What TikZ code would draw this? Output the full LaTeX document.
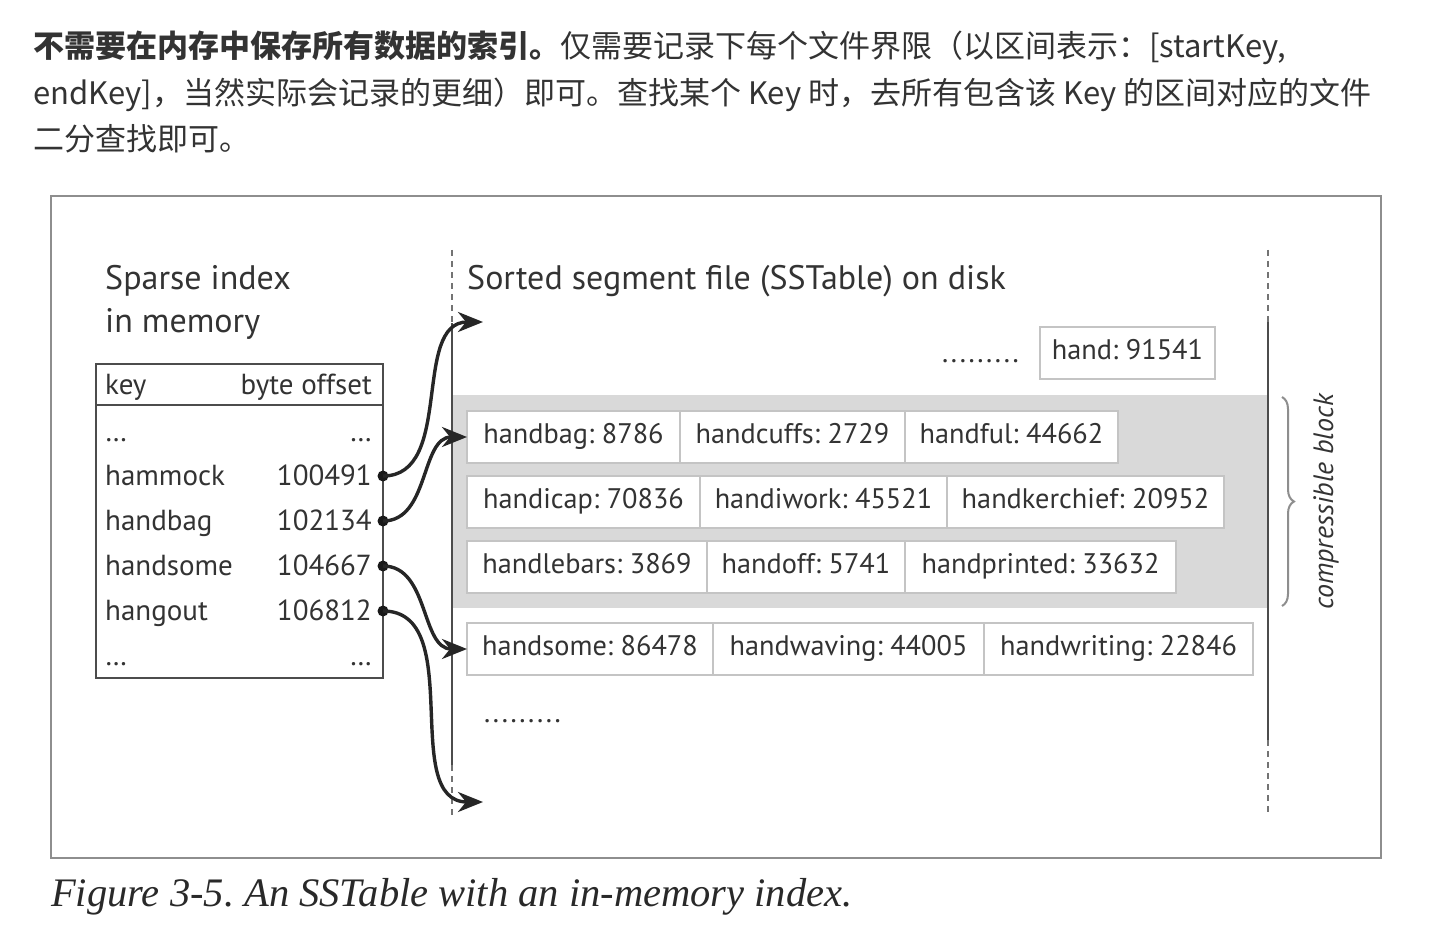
\documentclass[tikz,border=0pt]{standalone}
\usepackage{fontspec}
\setmainfont{PT Sans}
\newfontfamily\cjk{Noto Sans CJK SC}
\newfontfamily\capfont{Liberation Serif}
\usetikzlibrary{arrows.meta, positioning, decorations.pathreplacing}
\definecolor{ink}{HTML}{333333}
\definecolor{frameGray}{HTML}{8E8E8E}
\definecolor{blockGray}{HTML}{D9D9D9}
\definecolor{cellLine}{HTML}{C4C4C4}
\newcommand\setsz[1]{\fontsize{#1}{#1}\selectfont}
\newcommand\dotrun{.\kern2.6pt.\kern2.6pt.\kern2.6pt.\kern2.6pt.\kern2.6pt.\kern2.6pt.\kern2.6pt.\kern2.6pt.}

\begin{document}
\frenchspacing
\begin{tikzpicture}[
    x=1pt, y=-1pt,
    note/.style={text=ink, inner sep=0pt, anchor=base west, font=\cjk\setsz{31}},
    head/.style={text=ink, inner sep=0pt, anchor=base west, font=\setsz{34}},
    idx/.style={text=ink, inner sep=0pt, font=\setsz{29}},
    cell/.style={draw=cellLine, line width=1.5pt, fill=white, text=ink,
                 font=\setsz{28.3}, inner sep=0pt, outer sep=0pt,
                 minimum height=52pt, text height=19pt, text depth=6pt},
    dot/.style={circle, fill=black!90, inner sep=0pt, minimum size=11pt},
    ptr/.style={black!85, line width=3.4pt,
                -{Stealth[length=25pt, width=20pt, inset=8pt]}},
    disk/.style={black!70, line width=2pt},
    diskdash/.style={black!55, line width=1.6pt, dash pattern=on 6pt off 5pt}
]
\useasboundingbox[fill=white] (0,0) rectangle (1430,928);

% ---------- note above the figure ----------
\node[note] (l1) at (33,58)
  {{\bfseries 不需要在内存中保存所有数据的索引。}仅需要记录下每个文件界限（以区间表示：[startKey,};
\node[note] (l2) at (33,105)
  {endKey]，当然实际会记录的更细）即可。查找某个 Key 时，去所有包含该 Key 的区间对应的文件};
\node[note] (l3) at (33,151) {二分查找即可。};

% ---------- figure frame ----------
\draw[frameGray, line width=2pt] (51,196) rectangle (1381,858);

% ---------- compressible block ----------
\fill[blockGray] (453,395) rectangle (1268,608);
\draw[frameGray, line width=2pt, decorate, decoration={brace, amplitude=12pt}]
      (1282,397) -- (1282,606);
\node[text=ink, rotate=90, font=\itshape\setsz{28}, inner sep=0pt] (cblock)
      at (1326,502) {compressible block};

% ---------- disk boundaries ----------
\draw[diskdash] (452,250) -- (452,323);
\draw[disk]     (452,323) -- (452,765);
\draw[diskdash] (452,765) -- (452,815);
\draw[diskdash] (1268,250) -- (1268,322);
\draw[disk]     (1268,322) -- (1268,740);
\draw[diskdash] (1268,740) -- (1268,815);

% ---------- headings ----------
\node[head] (sparse) at (105,289) {Sparse index};
\node[head] (inmem)  at (105,332) {in memory};
\node[head] (sorted) at (467,289) {Sorted segment file (SSTable) on disk};

% ---------- sparse index table ----------
\draw[black!70, line width=2pt] (96,364) rectangle (383,678);
\draw[black!70, line width=2pt] (96,405) -- (383,405);
\node[idx, anchor=base west] (keyhd) at (105,394) {key};
\node[idx, anchor=base east] (offhd) at (372,394) {byte offset};
\node[idx, anchor=base west] (kdots1) at (105,441) {\dots};
\node[idx, anchor=base east] (odots1) at (372,441) {\dots};
\foreach \k/\v/\y/\n in {hammock/100491/485/1, handbag/102134/530/2,
                         handsome/104667/575/3, hangout/106812/620/4} {
  \node[idx, anchor=base west] (key\n) at (105,\y) {\k};
  \node[idx, anchor=base east] (off\n) at (372,\y) {\v};
  \node[dot] (dot\n) at (383,\y-9) {};
}
\node[idx, anchor=base west] (kdots2) at (105,665) {\dots};
\node[idx, anchor=base east] (odots2) at (372,665) {\dots};

% ---------- segment file entries ----------
\node[idx, anchor=base east] (gap1) at (1019,362) {\dotrun};
\node[cell, minimum width=175pt, anchor=north west] (hand) at (1040,327) {hand: 91541};

\node[cell, minimum width=213pt, anchor=north west] (bag) at (467,411) {handbag: 8786};
\node[cell, minimum width=225pt, right=0pt of bag] (cuffs) {handcuffs: 2729};
\node[cell, minimum width=213pt, right=0pt of cuffs] (ful) {handful: 44662};

\node[cell, minimum width=233pt, anchor=north west] (cap) at (467,476) {handicap: 70836};
\node[cell, minimum width=247pt, right=0pt of cap] (work) {handiwork: 45521};
\node[cell, minimum width=277pt, right=0pt of work] (kerch) {handkerchief: 20952};

\node[cell, minimum width=240pt, anchor=north west] (bars) at (467,541) {handlebars: 3869};
\node[cell, minimum width=198pt, right=0pt of bars] (off) {handoff: 5741};
\node[cell, minimum width=271pt, right=0pt of off] (print) {handprinted: 33632};

\node[cell, minimum width=246pt, anchor=north west] (some) at (467,623) {handsome: 86478};
\node[cell, minimum width=271pt, right=0pt of some] (wave) {handwaving: 44005};
\node[cell, minimum width=269pt, right=0pt of wave] (write) {handwriting: 22846};

\node[idx, anchor=base west] (gap2) at (484,722) {\dotrun};

% ---------- pointers into the file ----------
\coordinate (top) at (483,322);
\coordinate (bot) at (483,802);
\draw[ptr] (dot1.center) to[out=0, in=180] (top);
\draw[ptr] (dot2.center) to[out=0, in=180] (bag.west);
\draw[ptr] (dot3.center) to[out=0, in=180] (some.west);
\draw[ptr] (dot4.center) to[out=0, in=180] (bot);

% ---------- caption ----------
\node[text=ink!80!black, inner sep=0pt, anchor=base west,
      font=\capfont\itshape\setsz{40.5}] (cap) at (51,906)
      {Figure 3-5. An SSTable with an in-memory index.};

\end{tikzpicture}
\end{document}
